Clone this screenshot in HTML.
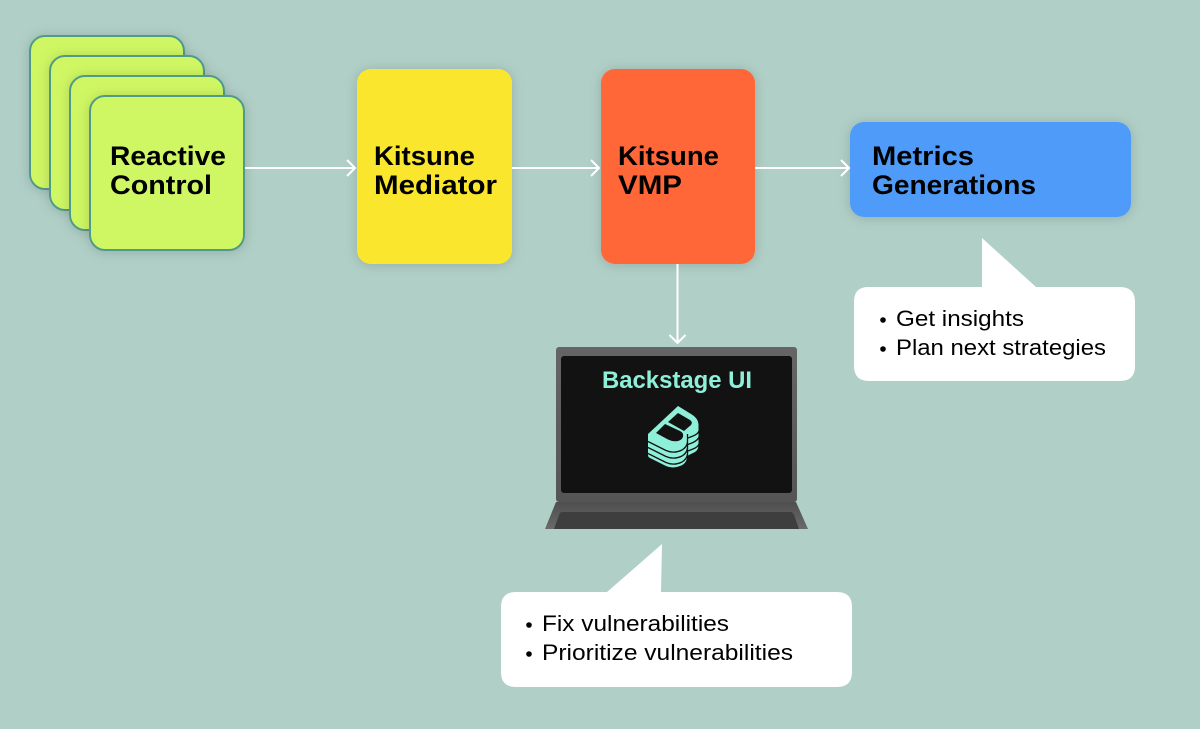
<!DOCTYPE html>
<html><head><meta charset="utf-8"><style>
html,body{margin:0;padding:0;background:#b0cfc6}
svg{display:block}
text{font-family:"Liberation Sans",sans-serif}
.b{font-weight:700;font-size:27px;fill:#000}
.n{font-size:22px;fill:#000}
</style></head><body>
<svg width="1200" height="729" viewBox="0 0 1200 729" xmlns="http://www.w3.org/2000/svg">
<defs>
<filter id="s" x="-20%" y="-20%" width="140%" height="140%"><feDropShadow dx="0" dy="1" stdDeviation="6" flood-color="#000" flood-opacity=".16"/></filter>
<linearGradient id="lid" x1="0" y1="0" x2="0" y2="1"><stop offset="0" stop-color="#656565"/><stop offset="1" stop-color="#555"/></linearGradient>
<linearGradient id="base" x1="0" y1="0" x2="0" y2="1"><stop offset="0" stop-color="#4e4e4e"/><stop offset="1" stop-color="#6a6a6a"/></linearGradient>
</defs>
<rect width="1200" height="729" fill="#b0cfc6"/>

<g fill="#cff763" stroke="#4f9a8c" stroke-width="2">
<rect x="30" y="36" width="154" height="153" rx="15" filter="url(#s)"/>
<rect x="50" y="56" width="154" height="154" rx="15" filter="url(#s)"/>
<rect x="70" y="76" width="154" height="154" rx="15" filter="url(#s)"/>
<rect x="90" y="96" width="154" height="154" rx="15" filter="url(#s)"/>
</g>
<text class="b" x="110" y="165" textLength="116" lengthAdjust="spacingAndGlyphs">Reactive</text>
<text class="b" x="110" y="194" textLength="102" lengthAdjust="spacingAndGlyphs">Control</text>

<rect x="357" y="69" width="155" height="195" rx="14" fill="#fbe62e" filter="url(#s)"/>
<text class="b" x="374" y="165" textLength="101" lengthAdjust="spacingAndGlyphs">Kitsune</text>
<text class="b" x="374" y="194" textLength="123" lengthAdjust="spacingAndGlyphs">Mediator</text>

<rect x="601" y="69" width="154" height="195" rx="14" fill="#ff6637" filter="url(#s)"/>
<text class="b" x="618" y="165" textLength="101" lengthAdjust="spacingAndGlyphs">Kitsune</text>
<text class="b" x="618" y="194" textLength="64" lengthAdjust="spacingAndGlyphs">VMP</text>

<rect x="850" y="122" width="281" height="95" rx="14" fill="#4f9bfa" filter="url(#s)"/>
<text class="b" x="872" y="165" textLength="102" lengthAdjust="spacingAndGlyphs">Metrics</text>
<text class="b" x="872" y="194" textLength="164" lengthAdjust="spacingAndGlyphs">Generations</text>

<g fill="none" stroke="#fff" stroke-width="2">
<path d="M245 168H355M347 160L355 168L347 176"/>
<path d="M512 168H599M591 160L599 168L591 176"/>
<path d="M755 168H849M841 160L849 168L841 176"/>
<path d="M677.500 264V343M669.500 335L677.500 343L685.500 335"/>
</g>

<!-- laptop -->
<rect x="556" y="347" width="241" height="155" rx="3" fill="url(#lid)"/>
<rect x="561" y="356" width="231" height="137" rx="3" fill="#121212"/>
<path d="M556 502H796L808 529H545Z" fill="url(#base)"/>
<path d="M562 512H790Q793 512 794 515L799 529H554L559 515Q560 512 562 512Z" fill="#3e3e3e"/>
<text x="677" y="388" text-anchor="middle" font-size="24" font-weight="700" fill="#8ff0da" textLength="150" lengthAdjust="spacingAndGlyphs">Backstage UI</text>

<!-- logo -->
<g>
<path d="M678 406L691 414Q698 418 698.500 424V446Q698 451 693 453L688 455.500L684 440Z" fill="#8ff0da"/>
<path d="M648 434L678 406L688 420L687 440V458Q686 464 680 466Q673 469 666 466L650 458Q648 457 648 455Z" fill="#8ff0da"/>
<g fill="none" stroke="#121212" stroke-width="1.300">
<path d="M648 441.500L666 450.500Q674 454 682 450Q687 447 687.500 442"/>
<path d="M648 447.500L666 456.500Q674 460 682 456Q687 453 687.500 448"/>
<path d="M648 453.500L666 462.500Q674 466 682 462Q687 459 687.500 454"/>
<path d="M687.500 434V455.500"/>
<path d="M688 438L693 436Q698 434 699 431"/>
<path d="M688 444.500L693 442.500Q698 440 699 437"/>
<path d="M688 451L693 449Q698 447 699 444"/>
</g>
<path d="M665 424L656 433L668 439.500Q673 442 678 441Q684 439 683 434Q682 432 680 431Z" fill="#121212"/>
<path d="M678 413L668 422L684 431L691 425Q693 422 690 420Z" fill="#121212"/>
</g>

<!-- callout 1 -->
<path d="M868 287H982V238L1036 287H1120Q1135 287 1135 302V366Q1135 381 1120 381H869Q854 381 854 366V302Q854 287 868 287Z" fill="#fff"/>
<circle cx="883" cy="320" r="2.800" fill="#000"/>
<circle cx="883" cy="349" r="2.800" fill="#000"/>
<text class="n" x="896" y="326" textLength="128" lengthAdjust="spacingAndGlyphs">Get insights</text>
<text class="n" x="896" y="355" textLength="210" lengthAdjust="spacingAndGlyphs">Plan next strategies</text>

<!-- callout 2 -->
<path d="M516 592H607L662 544L661 592H837Q852 592 852 607V672Q852 687 837 687H516Q501 687 501 672V607Q501 592 516 592Z" fill="#fff"/>
<circle cx="529" cy="625" r="2.800" fill="#000"/>
<circle cx="529" cy="654" r="2.800" fill="#000"/>
<text class="n" x="542" y="631" textLength="187" lengthAdjust="spacingAndGlyphs">Fix vulnerabilities</text>
<text class="n" x="542" y="660" textLength="251" lengthAdjust="spacingAndGlyphs">Prioritize vulnerabilities</text>
</svg>
</body></html>
